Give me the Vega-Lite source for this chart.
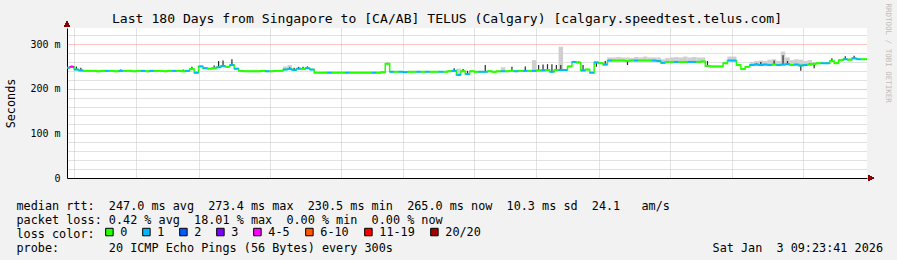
{
  "$schema": "https://vega.github.io/schema/vega-lite/v6.json",
  "width": 800,
  "height": 150,
  "autosize": {"type": "none"},
  "padding": {"left": 67, "top": 28, "right": 30, "bottom": 82},
  "background": "#f2f2f2",
  "config": {"view": {"stroke": null, "fill": "white"}, "font": "DejaVu Sans Mono"},
  "title": {"text": "Last 180 Days from Singapore to [CA/AB] TELUS (Calgary) [calgary.speedtest.telus.com]", "font": "DejaVu Sans Mono", "fontSize": 13.1, "fontWeight": "normal", "color": "black", "anchor": "middle", "dx": -20, "dy": 37, "offset": 4, "baseline": "alphabetic"},
  "data": {"values": [
    {"t":"2025-07-07","m":247,"c":"1"},
    {"t":"2025-07-08","m":249,"c":"4-5","s":252},
    {"t":"2025-07-09","m":243,"c":"1","s":250},
    {"t":"2025-07-10","m":241,"c":"1","s":247},
    {"t":"2025-07-11","m":240,"c":"0"},
    {"t":"2025-07-12","m":240,"c":"0"},
    {"t":"2025-07-13","m":240,"c":"0"},
    {"t":"2025-07-14","m":239,"c":"0"},
    {"t":"2025-07-15","m":240,"c":"0"},
    {"t":"2025-07-16","m":240,"c":"1"},
    {"t":"2025-07-17","m":240,"c":"0"},
    {"t":"2025-07-18","m":239,"c":"0"},
    {"t":"2025-07-19","m":240,"c":"1","s":243},
    {"t":"2025-07-20","m":240,"c":"0"},
    {"t":"2025-07-21","m":240,"c":"0"},
    {"t":"2025-07-22","m":239,"c":"0"},
    {"t":"2025-07-23","m":240,"c":"0"},
    {"t":"2025-07-24","m":240,"c":"1"},
    {"t":"2025-07-25","m":239,"c":"0"},
    {"t":"2025-07-26","m":240,"c":"1"},
    {"t":"2025-07-27","m":240,"c":"0"},
    {"t":"2025-07-28","m":240,"c":"0"},
    {"t":"2025-07-29","m":239,"c":"0"},
    {"t":"2025-07-30","m":240,"c":"0"},
    {"t":"2025-07-31","m":240,"c":"1"},
    {"t":"2025-08-01","m":240,"c":"0"},
    {"t":"2025-08-02","m":239,"c":"0","s":243},
    {"t":"2025-08-03","m":240,"c":"1"},
    {"t":"2025-08-04","m":244,"c":"0","s":249},
    {"t":"2025-08-05","m":236,"c":"1"},
    {"t":"2025-08-06","m":250,"c":"1"},
    {"t":"2025-08-07","m":246,"c":"1"},
    {"t":"2025-08-08","m":245,"c":"0"},
    {"t":"2025-08-09","m":246,"c":"0","s":252},
    {"t":"2025-08-10","m":248,"c":"1","s":262},
    {"t":"2025-08-11","m":251,"c":"1","s":263},
    {"t":"2025-08-12","m":249,"c":"0"},
    {"t":"2025-08-13","m":253,"c":"1","s":266},
    {"t":"2025-08-14","m":245,"c":"1"},
    {"t":"2025-08-15","m":240,"c":"0"},
    {"t":"2025-08-16","m":239,"c":"0"},
    {"t":"2025-08-17","m":239,"c":"0"},
    {"t":"2025-08-18","m":239,"c":"0"},
    {"t":"2025-08-19","m":239,"c":"0"},
    {"t":"2025-08-20","m":240,"c":"0"},
    {"t":"2025-08-21","m":239,"c":"1"},
    {"t":"2025-08-22","m":239,"c":"0"},
    {"t":"2025-08-23","m":240,"c":"0"},
    {"t":"2025-08-24","m":240,"c":"0"},
    {"t":"2025-08-25","m":243,"c":"1","g":250},
    {"t":"2025-08-26","m":244,"c":"1","g":253,"s":248},
    {"t":"2025-08-27","m":242,"c":"1","s":247},
    {"t":"2025-08-28","m":245,"c":"1","s":249},
    {"t":"2025-08-29","m":244,"c":"0","s":249},
    {"t":"2025-08-30","m":246,"c":"1","s":250},
    {"t":"2025-08-31","m":243,"c":"1"},
    {"t":"2025-09-01","m":236,"c":"0"},
    {"t":"2025-09-02","m":236,"c":"0"},
    {"t":"2025-09-03","m":236,"c":"0"},
    {"t":"2025-09-04","m":236,"c":"1"},
    {"t":"2025-09-05","m":236,"c":"0"},
    {"t":"2025-09-06","m":236,"c":"0"},
    {"t":"2025-09-07","m":236,"c":"0"},
    {"t":"2025-09-08","m":236,"c":"1"},
    {"t":"2025-09-09","m":236,"c":"0"},
    {"t":"2025-09-10","m":236,"c":"0"},
    {"t":"2025-09-11","m":236,"c":"0"},
    {"t":"2025-09-12","m":236,"c":"0"},
    {"t":"2025-09-13","m":236,"c":"0"},
    {"t":"2025-09-14","m":236,"c":"1"},
    {"t":"2025-09-15","m":236,"c":"0"},
    {"t":"2025-09-16","m":237,"c":"0"},
    {"t":"2025-09-17","m":256,"c":"0","s":258},
    {"t":"2025-09-18","m":238,"c":"1"},
    {"t":"2025-09-19","m":238,"c":"0"},
    {"t":"2025-09-20","m":238,"c":"1"},
    {"t":"2025-09-21","m":237,"c":"1"},
    {"t":"2025-09-22","m":238,"c":"0"},
    {"t":"2025-09-23","m":238,"c":"0"},
    {"t":"2025-09-24","m":238,"c":"1"},
    {"t":"2025-09-25","m":238,"c":"0"},
    {"t":"2025-09-26","m":238,"c":"1"},
    {"t":"2025-09-27","m":238,"c":"0"},
    {"t":"2025-09-28","m":238,"c":"0"},
    {"t":"2025-09-29","m":238,"c":"1"},
    {"t":"2025-09-30","m":238,"c":"0"},
    {"t":"2025-10-01","m":239,"c":"0"},
    {"t":"2025-10-02","m":240,"c":"1","s":246},
    {"t":"2025-10-03","m":231,"c":"1","g":245},
    {"t":"2025-10-04","m":239,"c":"0","s":244},
    {"t":"2025-10-05","m":233,"c":"1","s":240},
    {"t":"2025-10-06","m":239,"c":"0"},
    {"t":"2025-10-07","m":238,"c":"0"},
    {"t":"2025-10-08","m":238,"c":"1"},
    {"t":"2025-10-09","m":238,"c":"1","s":253},
    {"t":"2025-10-10","m":239,"c":"0"},
    {"t":"2025-10-11","m":238,"c":"0"},
    {"t":"2025-10-12","m":239,"c":"0"},
    {"t":"2025-10-13","m":239,"c":"1","g":248},
    {"t":"2025-10-14","m":239,"c":"0"},
    {"t":"2025-10-15","m":240,"c":"0","s":249},
    {"t":"2025-10-16","m":239,"c":"1"},
    {"t":"2025-10-17","m":240,"c":"0"},
    {"t":"2025-10-18","m":240,"c":"1","s":250},
    {"t":"2025-10-19","m":240,"c":"0"},
    {"t":"2025-10-20","m":240,"c":"1","g":264},
    {"t":"2025-10-21","m":241,"c":"0","s":253},
    {"t":"2025-10-22","m":241,"c":"1","s":254},
    {"t":"2025-10-23","m":242,"c":"0","s":255},
    {"t":"2025-10-24","m":238,"c":"1","s":255},
    {"t":"2025-10-25","m":242,"c":"0","s":253},
    {"t":"2025-10-26","m":242,"c":"1","g":294,"s":253},
    {"t":"2025-10-27","m":242,"c":"1"},
    {"t":"2025-10-28","m":250,"c":"0"},
    {"t":"2025-10-29","m":260,"c":"1","s":262},
    {"t":"2025-10-30","m":259,"c":"0","s":261},
    {"t":"2025-10-31","m":241,"c":"1","s":253},
    {"t":"2025-11-01","m":243,"c":"0"},
    {"t":"2025-11-02","m":236,"c":"1"},
    {"t":"2025-11-03","m":259,"c":"1","s":249},
    {"t":"2025-11-04","m":257,"c":"0"},
    {"t":"2025-11-05","m":254,"c":"1","s":262},
    {"t":"2025-11-06","m":263,"c":"1","g":270},
    {"t":"2025-11-07","m":263,"c":"0","g":270},
    {"t":"2025-11-08","m":263,"c":"0","g":271},
    {"t":"2025-11-09","m":263,"c":"0","g":270},
    {"t":"2025-11-10","m":262,"c":"0","g":270,"s":253},
    {"t":"2025-11-11","m":263,"c":"0","g":269},
    {"t":"2025-11-12","m":263,"c":"1","g":271},
    {"t":"2025-11-13","m":263,"c":"0","g":270},
    {"t":"2025-11-14","m":263,"c":"0","g":272},
    {"t":"2025-11-15","m":263,"c":"0","g":270},
    {"t":"2025-11-16","m":263,"c":"1","g":270},
    {"t":"2025-11-17","m":262,"c":"1","g":270},
    {"t":"2025-11-18","m":258,"c":"1","g":266},
    {"t":"2025-11-19","m":260,"c":"0","g":269},
    {"t":"2025-11-20","m":260,"c":"0","g":270},
    {"t":"2025-11-21","m":260,"c":"1","g":271},
    {"t":"2025-11-22","m":260,"c":"0","g":270},
    {"t":"2025-11-23","m":260,"c":"0","g":272},
    {"t":"2025-11-24","m":260,"c":"1","g":270},
    {"t":"2025-11-25","m":260,"c":"1","g":271},
    {"t":"2025-11-26","m":260,"c":"0","g":270},
    {"t":"2025-11-27","m":261,"c":"0","g":270},
    {"t":"2025-11-28","m":251,"c":"0","s":262},
    {"t":"2025-11-29","m":250,"c":"0"},
    {"t":"2025-11-30","m":250,"c":"0"},
    {"t":"2025-12-01","m":250,"c":"0"},
    {"t":"2025-12-02","m":257,"c":"0"},
    {"t":"2025-12-03","m":263,"c":"1","g":272},
    {"t":"2025-12-04","m":263,"c":"1","g":272},
    {"t":"2025-12-05","m":253,"c":"0"},
    {"t":"2025-12-06","m":244,"c":"0"},
    {"t":"2025-12-07","m":249,"c":"0"},
    {"t":"2025-12-08","m":253,"c":"1","g":260},
    {"t":"2025-12-09","m":254,"c":"1","g":262,"s":257},
    {"t":"2025-12-10","m":253,"c":"1","g":263,"s":260},
    {"t":"2025-12-11","m":254,"c":"1","g":262},
    {"t":"2025-12-12","m":253,"c":"1","g":265},
    {"t":"2025-12-13","m":254,"c":"0","g":266,"s":263},
    {"t":"2025-12-14","m":253,"c":"1","g":262},
    {"t":"2025-12-15","m":254,"c":"1","g":283,"s":275},
    {"t":"2025-12-16","m":255,"c":"1","g":270,"s":262},
    {"t":"2025-12-17","m":253,"c":"0","g":264},
    {"t":"2025-12-18","m":254,"c":"1","g":266},
    {"t":"2025-12-19","m":252,"c":"1","g":265,"s":240},
    {"t":"2025-12-20","m":253,"c":"1","g":262},
    {"t":"2025-12-21","m":254,"c":"0","g":264,"s":257},
    {"t":"2025-12-22","m":256,"c":"0","s":246},
    {"t":"2025-12-23","m":257,"c":"0"},
    {"t":"2025-12-24","m":257,"c":"1"},
    {"t":"2025-12-25","m":257,"c":"1"},
    {"t":"2025-12-26","m":262,"c":"0","s":268},
    {"t":"2025-12-27","m":257,"c":"0"},
    {"t":"2025-12-28","m":264,"c":"0","g":266},
    {"t":"2025-12-29","m":266,"c":"1","s":273},
    {"t":"2025-12-30","m":265,"c":"0","g":268},
    {"t":"2025-12-31","m":268,"c":"1","s":274},
    {"t":"2026-01-01","m":266,"c":"1"},
    {"t":"2026-01-02","m":266,"c":"0","g":267},
    {"t":"2026-01-03","m":266,"c":"0"}
  ]},
  "resolve": {"axis": {"y": "independent"}},
  "layer": [
    {
      "transform": [{"filter": "isValid(datum.g)"}],
      "mark": {"type": "rule", "color": "#cfcfcf", "strokeWidth": 4.5, "clip": true},
      "encoding": {
        "x": {"field": "t", "type": "temporal", "timeUnit": "utcyearmonthdate", "bandPosition": 0.5,
          "scale": {"type": "utc", "domain": [1751880221000, 1767432221000]},
          "axis": {
            "values": [1752019200000,1752192000000,1752364800000,1752537600000,1752710400000,1752883200000,1753056000000,1753228800000,1753401600000,1753574400000,1753747200000,1753920000000,1754092800000,1754265600000,1754438400000,1754611200000,1754784000000,1754956800000,1755129600000,1755302400000,1755475200000,1755648000000,1755820800000,1755993600000,1756166400000,1756339200000,1756512000000,1756684800000,1756857600000,1757030400000,1757203200000,1757376000000,1757548800000,1757721600000,1757894400000,1758067200000,1758240000000,1758412800000,1758585600000,1758758400000,1758931200000,1759104000000,1759276800000,1759449600000,1759622400000,1759795200000,1759968000000,1760140800000,1760313600000,1760486400000,1760659200000,1760832000000,1761004800000,1761177600000,1761350400000,1761523200000,1761696000000,1761868800000,1762041600000,1762214400000,1762387200000,1762560000000,1762732800000,1762905600000,1763078400000,1763251200000,1763424000000,1763596800000,1763769600000,1763942400000,1764115200000,1764288000000,1764460800000,1764633600000,1764806400000,1764979200000,1765152000000,1765324800000,1765497600000,1765670400000,1765843200000,1766016000000,1766188800000,1766361600000,1766534400000,1766707200000,1766880000000,1767052800000,1767225600000,1754006400000,1761955200000,1764547200000,1752624000000,1757980800000,1760572800000],
            "labelExpr": "utcdate(datum.value) == 16 ? utcFormat(datum.value, '%B %Y') : ''",
            "labelFont": "DejaVu Sans Mono", "labelFontSize": 10, "labelColor": "black",
            "labelBaseline": "middle", "labelPadding": 9, "labelOverlap": false, "labelFlush": false,
            "ticks": false, "domain": true, "domainColor": "black", "domainWidth": 1,
            "grid": true, "gridDash": [1, 1],
            "gridColor": {"condition": {"test": "utcdate(datum.value) == 1", "value": "#ff8a8a"}, "value": "#c4c4c4"},
            "gridOpacity": {"condition": {"test": "utcdate(datum.value) == 16 && (datum.value / 86400000) % 2 == 1", "value": 0}, "value": 1},
            "title": ["median rtt: \u00a0247.0 ms avg \u00a0273.4 ms max \u00a0230.5 ms min \u00a0265.0 ms now \u00a010.3 ms sd \u00a024.1 \u00a0\u00a0am/s", "packet loss: 0.42 % avg \u00a018.01 % max \u00a00.00 % min \u00a00.00 % now", "loss color:", "probe: \u00a0\u00a0\u00a0\u00a0\u00a0\u00a020 ICMP Echo Pings (56 Bytes) every 300s \u00a0\u00a0\u00a0\u00a0\u00a0\u00a0\u00a0\u00a0\u00a0\u00a0\u00a0\u00a0\u00a0\u00a0\u00a0\u00a0\u00a0\u00a0\u00a0\u00a0\u00a0\u00a0\u00a0\u00a0\u00a0\u00a0\u00a0\u00a0\u00a0\u00a0\u00a0\u00a0\u00a0\u00a0\u00a0\u00a0\u00a0\u00a0\u00a0\u00a0\u00a0\u00a0\u00a0\u00a0Sat Jan \u00a03 09:23:41 2026"],
            "titleFont": "DejaVu Sans Mono", "titleFontSize": 11.8, "titleFontWeight": "normal", "titleColor": "black",
            "titleAlign": "left", "titleAnchor": null, "titleBaseline": "alphabetic", "titleLineHeight": 14,
            "titleX": -51, "titleY": 31
          }
        },
        "y": {"field": "g", "type": "quantitative",
          "scale": {"domain": [0, 336], "nice": false, "zero": true},
          "axis": {
            "values": [0,20,40,60,80,100,120,140,160,180,200,220,240,260,280,300,320],
            "labelExpr": "datum.value % 100 == 0 ? (datum.value == 0 ? '0\u00a0\u00a0' : datum.value + ' m') : ''",
            "labelFont": "DejaVu Sans Mono", "labelFontSize": 10, "labelColor": "black", "labelPadding": 7,
            "ticks": false, "domain": true, "domainColor": "black", "domainWidth": 1,
            "grid": true, "gridDash": [1, 1],
            "gridColor": {"condition": {"test": "datum.value % 100 == 0", "value": "#ff8a8a"}, "value": "#c4c4c4"},
            "title": "Seconds", "titleFont": "DejaVu Sans Mono", "titleFontSize": 11.8, "titleFontWeight": "normal", "titleColor": "black",
            "titleAngle": -90, "titleAlign": "center", "titleBaseline": "middle", "titleX": -57, "titleY": 75
          }
        },
        "y2": {"field": "m"}
      }
    },
    {
      "transform": [{"filter": "isValid(datum.s)"}],
      "mark": {"type": "rule", "color": "#2a2a2a", "strokeWidth": 1.2, "clip": true},
      "encoding": {
        "x": {"field": "t", "type": "temporal", "timeUnit": "utcyearmonthdate", "bandPosition": 0.5},
        "y": {"field": "s", "type": "quantitative", "axis": null},
        "y2": {"field": "m"}
      }
    },
    {
      "mark": {"type": "line", "interpolate": "step", "color": "#26ff00", "strokeWidth": 1.5, "clip": true},
      "encoding": {
        "x": {"field": "t", "type": "temporal", "timeUnit": "utcyearmonthdate", "bandPosition": 0.5},
        "y": {"field": "m", "type": "quantitative", "axis": null}
      }
    },
    {
      "mark": {"type": "tick", "orient": "horizontal", "size": 4.6, "thickness": 2, "opacity": 1, "clip": true},
      "encoding": {
        "x": {"field": "t", "type": "temporal", "timeUnit": "utcyearmonthdate", "bandPosition": 0.5},
        "y": {"field": "m", "type": "quantitative", "axis": null},
        "color": {"field": "c", "type": "nominal",
          "scale": {"domain": ["0","1","2","3","4-5","6-10","11-19","20/20"], "range": ["#26ff00","#00b8ff","#0059ff","#7e00ff","#ff00ff","#ff5500","#ff0000","#a10000"]},
          "legend": {"title": null, "orient": "none", "legendX": 36.5, "legendY": 198, "direction": "horizontal",
            "labelFont": "DejaVu Sans Mono", "labelFontSize": 11.8, "labelColor": "black", "labelOffset": 5, "columnPadding": 13,
            "labelExpr": "datum.label == '11-19' ? '11-19\u00a0\u00a0' : datum.label",
            "symbolType": "square", "symbolSize": 56, "symbolStrokeColor": "black", "symbolStrokeWidth": 1, "symbolOpacity": 1, "padding": 0}
        }
      }
    },
    {
      "mark": {"type": "point", "shape": "triangle-up", "size": 30, "filled": true, "color": "#8b0000", "opacity": 1, "yOffset": -4},
      "encoding": {
        "x": {"datum": {"year": 2025, "month": 7, "date": 7, "hours": 9, "minutes": 23, "seconds": 41, "utc": true}, "type": "temporal"},
        "y": {"datum": 336, "type": "quantitative", "axis": null}
      }
    },
    {
      "mark": {"type": "point", "shape": "triangle-right", "size": 30, "filled": true, "color": "#8b0000", "opacity": 1, "xOffset": 4},
      "encoding": {
        "x": {"datum": {"year": 2026, "month": 1, "date": 3, "hours": 9, "minutes": 23, "seconds": 41, "utc": true}, "type": "temporal"},
        "y": {"datum": 0, "type": "quantitative",
          "axis": {"orient": "right", "labels": false, "ticks": false, "domain": false, "grid": false,
            "title": "RRDTOOL / TOBI OETIKER", "titleFont": "DejaVu Sans Mono", "titleFontSize": 7.5, "titleFontWeight": "normal", "titleColor": "#bdbdbd",
            "titleAngle": 90, "titleAlign": "left", "titleBaseline": "middle", "titleX": 20, "titleY": -25}
        }
      }
    }
  ]
}
